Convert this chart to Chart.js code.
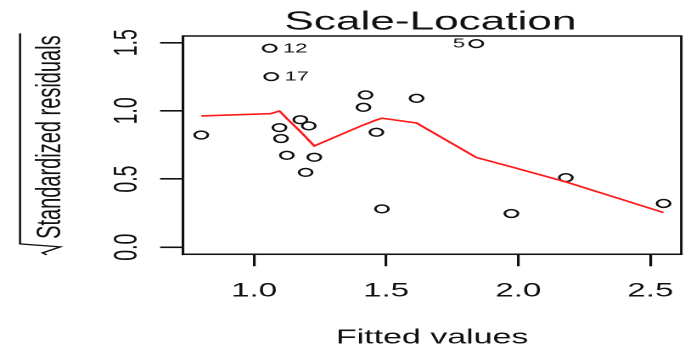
<!DOCTYPE html>
<html>
<head>
<meta charset="utf-8">
<script src="https://cdn.jsdelivr.net/npm/chart.js@4.4.1/dist/chart.umd.min.js"></script>
<style>
  html, body { margin: 0; padding: 0; background: #fff; overflow: hidden; }
  /* the plot is laid out on a narrow canvas and widened to the page */
  #stage { width: 410px; height: 350px; transform: scaleX(1.6976); transform-origin: 0 0; }
</style>
</head>
<body>
<div id="stage"><canvas id="c" width="410" height="350"></canvas></div>
<script>
// Fitted values (sorted) and sqrt(|standardized residuals|)
const fittedValues = [0.800, 1.059, 1.065, 1.096, 1.102, 1.124, 1.175, 1.195, 1.207, 1.228,
                      1.414, 1.422, 1.463, 1.484, 1.615, 1.841, 1.974, 2.180, 2.550];
const sqrtStdResid = [0.823, 1.459, 1.251, 0.877, 0.797, 0.674, 0.935, 0.549, 0.890, 0.660,
                      1.026, 1.117, 0.843, 0.281, 1.092, 1.493, 0.247, 0.510, 0.321];
// lowess smooth evaluated at the fitted values
const smoothFit = [0.963, 0.979, 0.981, 0.999, 0.988, 0.944, 0.849, 0.809, 0.784, 0.743,
                   0.897, 0.902, 0.933, 0.946, 0.911, 0.658, 0.589, 0.479, 0.254];
// observation numbers shown for the three most extreme points
const obsIds = ["", "12", "17", "", "", "", "", "", "", "",
                "", "", "", "", "", "5", "", "", ""];

const xTicks = [1.0, 1.5, 2.0, 2.5];
const yTicks = [0.0, 0.5, 1.0, 1.5];
const xLimits = [0.731, 2.617];
const yLimits = [-0.052, 1.549];

const titleText = "Scale-Location";
const xTitle = "Fitted values";
const yTitle = "Standardized residuals";

const ink = "#111";
const family = '"Liberation Sans", Arial, Helvetica, sans-serif';

const pts = fittedValues.map((x, i) => ({ x: x, y: sqrtStdResid[i] }));
const smooth = fittedValues.map((x, i) => ({ x: x, y: smoothFit[i] }));

// Frame, rotated y labels, sqrt-style y title, main title and point ids
const rDecor = {
  id: 'rDecor',
  afterDraw(chart) {
    const { ctx, chartArea: a, scales } = chart;
    ctx.save();
    ctx.strokeStyle = ink;
    ctx.fillStyle = ink;

    // plot frame
    ctx.lineWidth = 1.5;
    ctx.strokeRect(a.left, a.top, a.right - a.left, a.bottom - a.top);

    // y tick labels, written along the axis
    ctx.font = '19.5px ' + family;
    ctx.textAlign = 'center';
    ctx.textBaseline = 'alphabetic';
    scales.y.ticks.forEach(t => {
      const py = scales.y.getPixelForValue(t.value);
      ctx.save();
      ctx.translate(a.left - 27.5, py);
      ctx.rotate(-Math.PI / 2);
      ctx.fillText(t.value.toFixed(1), 0, 0);
      ctx.restore();
    });

    // y title under a radical sign
    ctx.font = '20px ' + family;
    const tw = ctx.measureText(yTitle).width;
    const radLen = 16;
    const mid = (a.top + a.bottom) / 2;
    const exprBottom = mid + (tw + radLen) / 2;
    const textStart = exprBottom - radLen;
    const bx = 35.5;
    ctx.save();
    ctx.translate(bx, textStart);
    ctx.rotate(-Math.PI / 2);
    ctx.textAlign = 'left';
    ctx.fillText(yTitle, 0, 0);
    ctx.restore();
    ctx.lineWidth = 1.3;
    const barX = bx - 23.7;
    ctx.beginPath();
    ctx.moveTo(barX, textStart - tw - 2);
    ctx.lineTo(barX, textStart + 5);
    ctx.lineTo(bx, textStart + 8);
    ctx.lineTo(bx - 10.5, textStart + 14);
    ctx.lineTo(bx - 8, textStart + 16);
    ctx.stroke();

    // main title
    ctx.font = '26px ' + family;
    ctx.textAlign = 'center';
    ctx.fillText(titleText, (a.left + a.right) / 2 - 1, 29.5);

    // observation numbers beside their points
    ctx.font = '13px ' + family;
    ctx.textBaseline = 'middle';
    const meta = chart.getDatasetMeta(1);
    const xMid = (Math.min(...fittedValues) + Math.max(...fittedValues)) / 2;
    obsIds.forEach((id, i) => {
      if (!id) return;
      const el = meta.data[i];
      if (fittedValues[i] < xMid) {
        ctx.textAlign = 'left';
        ctx.fillText(id, el.x + 7.8, el.y + 0.5);
      } else {
        ctx.textAlign = 'right';
        ctx.fillText(id, el.x - 6.6, el.y + 0.5);
      }
    });
    ctx.restore();
  }
};

new Chart(document.getElementById('c'), {
  type: 'scatter',
  data: {
    datasets: [
      {
        type: 'line',
        data: smooth,
        borderColor: '#ff1a1a',
        borderWidth: 1.6,
        pointRadius: 0,
        fill: false,
        tension: 0
      },
      {
        data: pts,
        pointStyle: 'circle',
        pointRadius: 3.9,
        borderWidth: 1.5,
        borderColor: ink,
        backgroundColor: 'rgba(0,0,0,0)'
      }
    ]
  },
  options: {
    responsive: false,
    devicePixelRatio: 2,
    animation: false,
    events: [],
    layout: { padding: { left: 0, top: 36, right: 1.5, bottom: 0 } },
    plugins: { legend: { display: false }, tooltip: { enabled: false }, title: { display: false } },
    scales: {
      x: {
        type: 'linear',
        min: xLimits[0],
        max: xLimits[1],
        afterBuildTicks: s => { s.ticks = xTicks.map(v => ({ value: v })); },
        afterFit: s => { s.height = 95.7; },
        border: { display: true, color: ink, width: 1.5 },
        grid: { drawOnChartArea: false, drawTicks: true, tickLength: 12, tickColor: ink, lineWidth: 1.6 },
        ticks: {
          padding: 13,
          color: ink,
          font: { family: family, size: 19.5 },
          maxRotation: 0,
          callback: v => Number(v).toFixed(1)
        },
        title: {
          display: true,
          text: xTitle,
          color: ink,
          font: { family: family, size: 20 },
          padding: { top: 0, bottom: 0 }
        }
      },
      y: {
        type: 'linear',
        min: yLimits[0],
        max: yLimits[1],
        afterBuildTicks: s => { s.ticks = yTicks.map(v => ({ value: v })); },
        afterFit: s => { s.width = 107.8; },
        border: { display: true, color: ink, width: 1.5 },
        grid: { drawOnChartArea: false, drawTicks: true, tickLength: 13.5, tickColor: ink, lineWidth: 1.6 },
        ticks: { display: false }
      }
    }
  },
  plugins: [rDecor]
});
</script>
</body>
</html>
